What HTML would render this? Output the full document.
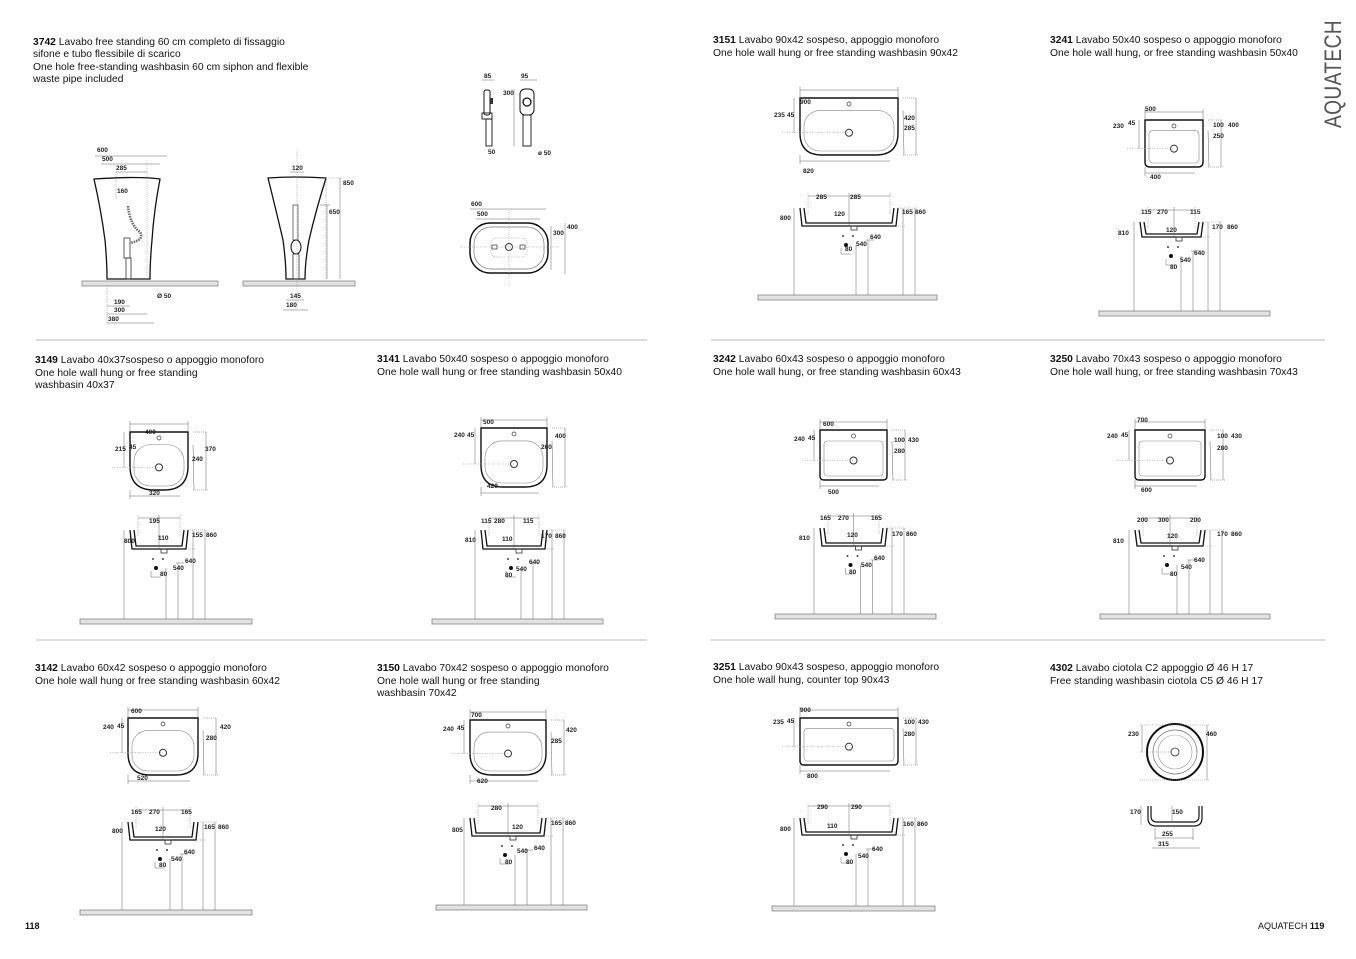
<!DOCTYPE html>
<html><head><meta charset="utf-8">
<style>
html,body{margin:0;padding:0;background:#fff;}
svg{display:block;font-family:"Liberation Sans",Arial,sans-serif;}
.h{font-size:10.3px;fill:#111;}
.d{font-size:6.5px;font-weight:bold;fill:#222;}
</style></head>
<body>
<svg id="s" width="1356" height="959" viewBox="0 0 1356 959" xmlns="http://www.w3.org/2000/svg">
<rect width="1356" height="959" fill="#fff"/>
<g id="g"></g>
<line x1="36" y1="340" x2="647" y2="340" stroke="#bbb" stroke-width="1"/>
<line x1="711" y1="340" x2="1325" y2="340" stroke="#bbb" stroke-width="1"/>
<line x1="36" y1="640" x2="647" y2="640" stroke="#bbb" stroke-width="1"/>
<line x1="711" y1="640" x2="1325" y2="640" stroke="#bbb" stroke-width="1"/>

<text class="h" x="33" y="45"><tspan font-weight="bold">3742</tspan> Lavabo free standing 60 cm completo di fissaggio</text>
<text class="h" x="33" y="57">sifone e tubo flessibile di scarico</text>
<text class="h" x="33" y="70">One hole free-standing washbasin 60 cm siphon and flexible</text>
<text class="h" x="33" y="82">waste pipe included</text>

<text class="h" x="713" y="43"><tspan font-weight="bold">3151</tspan> Lavabo 90x42 sospeso, appoggio monoforo</text>
<text class="h" x="713" y="56">One hole wall hung or free standing washbasin 90x42</text>
<text class="h" x="1050" y="43"><tspan font-weight="bold">3241</tspan> Lavabo 50x40 sospeso o appoggio monoforo</text>
<text class="h" x="1050" y="56">One hole wall hung, or free standing washbasin 50x40</text>

<text class="h" x="35" y="363"><tspan font-weight="bold">3149</tspan> Lavabo 40x37sospeso o appoggio monoforo</text>
<text class="h" x="35" y="376">One hole wall hung or free standing</text>
<text class="h" x="35" y="388">washbasin 40x37</text>
<text class="h" x="377" y="362"><tspan font-weight="bold">3141</tspan> Lavabo 50x40 sospeso o appoggio monoforo</text>
<text class="h" x="377" y="375">One hole wall hung or free standing washbasin 50x40</text>
<text class="h" x="713" y="362"><tspan font-weight="bold">3242</tspan> Lavabo 60x43 sospeso o appoggio monoforo</text>
<text class="h" x="713" y="375">One hole wall hung, or free standing washbasin 60x43</text>
<text class="h" x="1050" y="362"><tspan font-weight="bold">3250</tspan> Lavabo 70x43 sospeso o appoggio monoforo</text>
<text class="h" x="1050" y="375">One hole wall hung, or free standing washbasin 70x43</text>

<text class="h" x="35" y="671"><tspan font-weight="bold">3142</tspan> Lavabo 60x42 sospeso o appoggio monoforo</text>
<text class="h" x="35" y="684">One hole wall hung or free standing washbasin 60x42</text>
<text class="h" x="377" y="671"><tspan font-weight="bold">3150</tspan> Lavabo 70x42 sospeso o appoggio monoforo</text>
<text class="h" x="377" y="684">One hole wall hung or free standing</text>
<text class="h" x="377" y="696">washbasin 70x42</text>
<text class="h" x="713" y="670"><tspan font-weight="bold">3251</tspan> Lavabo 90x43 sospeso, appoggio monoforo</text>
<text class="h" x="713" y="683">One hole wall hung, counter top 90x43</text>
<text class="h" x="1050" y="671"><tspan font-weight="bold">4302</tspan> Lavabo ciotola C2 appoggio Ø 46 H 17</text>
<text class="h" x="1050" y="684">Free standing washbasin ciotola C5 Ø 46 H 17</text>

<text x="25" y="929" font-size="9" font-weight="bold" fill="#111">118</text>
<text x="1258" y="929" font-size="9" fill="#111">AQUATECH <tspan font-weight="bold">119</tspan></text>
<text transform="translate(1341,128) rotate(-90)" font-size="24" fill="#555" letter-spacing="0.5" textLength="108" lengthAdjust="spacingAndGlyphs">AQUATECH</text>

<g class="d">
<text x="97" y="152">600</text><text x="102" y="161">500</text><text x="116" y="170">285</text><text x="117" y="193">160</text>
<text x="114" y="304">190</text><text x="114" y="312">300</text><text x="108" y="321">380</text><text x="157" y="298">Ø 50</text>
<text x="292" y="170">120</text><text x="343" y="185">850</text><text x="329" y="214">650</text><text x="290" y="298">145</text><text x="286" y="307">180</text>
<text x="484" y="78">85</text><text x="521" y="78">95</text><text x="503" y="95">300</text><text x="488" y="154">50</text><text x="538" y="155">ø 50</text>
<text x="471" y="206">600</text><text x="477" y="216">500</text><text x="553" y="235">300</text><text x="567" y="229">400</text>

<text x="800" y="104">900</text><text x="774" y="117">235</text><text x="787" y="117">45</text><text x="904" y="120">420</text><text x="904" y="130">285</text><text x="803" y="173">820</text>
<text x="816" y="199">285</text><text x="850" y="199">285</text><text x="834" y="216">120</text><text x="780" y="220">800</text><text x="902" y="214">165</text><text x="915" y="214">860</text>
<text x="870" y="239">640</text><text x="856" y="246">540</text><text x="845" y="251">80</text>

<text x="1145" y="111">500</text><text x="1113" y="128">230</text><text x="1128" y="125">45</text><text x="1213" y="127">100</text><text x="1228" y="127">400</text><text x="1213" y="138">250</text><text x="1150" y="179">400</text>
<text x="1141" y="214">115</text><text x="1157" y="214">270</text><text x="1190" y="214">115</text><text x="1166" y="232">120</text><text x="1118" y="235">810</text><text x="1212" y="229">170</text><text x="1227" y="229">860</text>
<text x="1194" y="255">640</text><text x="1180" y="262">540</text><text x="1170" y="269">80</text>

<text x="145" y="434">400</text><text x="115" y="451">215</text><text x="129" y="449">45</text><text x="205" y="451">370</text><text x="192" y="461">240</text><text x="149" y="495">320</text>
<text x="149" y="523">195</text><text x="158" y="540">110</text><text x="124" y="543">800</text><text x="192" y="537">155</text><text x="206" y="537">860</text>
<text x="185" y="563">640</text><text x="173" y="570">540</text><text x="160" y="576">80</text>

<text x="483" y="424">500</text><text x="454" y="437">240</text><text x="467" y="437">45</text><text x="555" y="438">400</text><text x="541" y="449">260</text><text x="487" y="488">420</text>
<text x="481" y="523">115</text><text x="494" y="523">280</text><text x="523" y="523">115</text><text x="502" y="541">110</text><text x="465" y="542">810</text><text x="541" y="538">170</text><text x="555" y="538">860</text>
<text x="529" y="564">640</text><text x="516" y="571">540</text><text x="505" y="577">80</text>

<text x="823" y="426">600</text><text x="794" y="441">240</text><text x="808" y="440">45</text><text x="894" y="442">100</text><text x="908" y="442">430</text><text x="894" y="453">280</text><text x="828" y="494">500</text>
<text x="820" y="520">165</text><text x="838" y="520">270</text><text x="871" y="520">165</text><text x="847" y="537">120</text><text x="799" y="540">810</text><text x="892" y="536">170</text><text x="906" y="536">860</text>
<text x="874" y="560">640</text><text x="861" y="567">540</text><text x="849" y="574">80</text>

<text x="1137" y="422">700</text><text x="1107" y="438">240</text><text x="1121" y="437">45</text><text x="1217" y="438">100</text><text x="1231" y="438">430</text><text x="1217" y="450">280</text><text x="1141" y="492">600</text>
<text x="1137" y="522">200</text><text x="1158" y="522">300</text><text x="1190" y="522">200</text><text x="1167" y="538">120</text><text x="1113" y="543">810</text><text x="1217" y="536">170</text><text x="1231" y="536">860</text>
<text x="1194" y="562">640</text><text x="1181" y="569">540</text><text x="1170" y="576">80</text>

<text x="131" y="713">600</text><text x="103" y="729">240</text><text x="117" y="728">45</text><text x="220" y="729">420</text><text x="206" y="740">280</text><text x="137" y="780">520</text>
<text x="131" y="814">165</text><text x="149" y="814">270</text><text x="181" y="814">165</text><text x="155" y="831">120</text><text x="112" y="833">800</text><text x="204" y="829">165</text><text x="218" y="829">860</text>
<text x="184" y="854">640</text><text x="171" y="861">540</text><text x="159" y="867">80</text>

<text x="471" y="717">700</text><text x="443" y="731">240</text><text x="457" y="730">45</text><text x="566" y="732">420</text><text x="551" y="743">285</text><text x="477" y="783">620</text>
<text x="491" y="810">280</text><text x="512" y="829">120</text><text x="452" y="832">805</text><text x="551" y="825">165</text><text x="565" y="825">860</text>
<text x="534" y="850">640</text><text x="517" y="853">540</text><text x="505" y="864">80</text>

<text x="800" y="712">900</text><text x="773" y="724">235</text><text x="787" y="723">45</text><text x="904" y="724">100</text><text x="918" y="724">430</text><text x="904" y="736">280</text><text x="807" y="778">800</text>
<text x="817" y="809">290</text><text x="851" y="809">290</text><text x="827" y="828">110</text><text x="780" y="831">800</text><text x="903" y="826">160</text><text x="917" y="826">860</text>
<text x="872" y="851">640</text><text x="858" y="858">540</text><text x="846" y="864">80</text>

<text x="1128" y="736">230</text><text x="1206" y="736">460</text><text x="1130" y="814">170</text><text x="1172" y="814">150</text><text x="1162" y="836">255</text><text x="1158" y="846">315</text>
</g>
</svg>
<script>
var g=document.getElementById('g'),NS='http://www.w3.org/2000/svg';
function el(t,a){var e=document.createElementNS(NS,t);for(var k in a)e.setAttribute(k,a[k]);g.appendChild(e);return e;}
function L(x1,y1,x2,y2,w,c,da){var a={x1:x1,y1:y1,x2:x2,y2:y2,stroke:c||'#666','stroke-width':w||0.5};if(da)a['stroke-dasharray']=da;el('line',a);}
function floor(x0,x1,y){el('rect',{x:x0,y:y,width:x1-x0,height:5,fill:'#e2e2e2',stroke:'#777','stroke-width':0.7});}
function wall(c){
 var a=c.tx0,b=c.tx1,t=c.ty0,bt=c.ty1,r=c.r,m=(a+b)/2;
 el('path',{d:'M'+a+' '+t+'H'+b+'V'+(bt-r)+'Q'+b+' '+bt+' '+(b-r)+' '+bt+'H'+(a+r)+'Q'+a+' '+bt+' '+a+' '+(bt-r)+'Z',fill:'none',stroke:'#111','stroke-width':1.4});
 var ir=Math.min(r,(bt-t)*0.35),it=t+(bt-t)*0.22;
 el('rect',{x:a+4,y:it,width:b-a-8,height:bt-it-4,rx:ir*0.8,fill:'none',stroke:'#888','stroke-width':0.6});
 el('circle',{cx:m,cy:t+6,r:2,fill:'none',stroke:'#333','stroke-width':0.7});
 el('circle',{cx:m,cy:(it+bt)/2,r:3.5,fill:'none',stroke:'#333','stroke-width':1});
 L(a,t-8,b,t-8);L(a,t-11,a,t);L(b,t-11,b,t);
 L(a,bt+6,b-8,bt+6);L(a,bt,a,bt+9);
 L(b+5,t,b+18,t,0.5,'#666','1,1');L(b+18,t,b+18,bt);L(b+5,it,b+6,bt);L(b+5,bt,b+20,bt,0.5,'#666','1,1');
 L(a-18,(it+bt)/2,m,(it+bt)/2,0.5,'#888','1,1.5');L(a-6,t,a-6,(it+bt)/2);
 var f0=c.fy0,f1=c.fy1,fa=c.fa||a,fb=c.fb||b;
 el('path',{d:'M'+fa+' '+f0+'L'+(fa+2)+' '+f1+'H'+(fb-2)+'L'+fb+' '+f0+'M'+(fa+4)+' '+f0+'L'+(fa+6)+' '+(f1-3)+'H'+(fb-6)+'L'+(fb-4)+' '+f0,fill:'none',stroke:'#111','stroke-width':1.3});
 el('rect',{x:m+2,y:f1,width:6,height:4,fill:'none',stroke:'#333','stroke-width':0.8});
 L(fa+8,f0-12,fb-8,f0-12);L(fa+8,f0-15,fa+8,f0+6,0.5,'#888','1,1');L(fb-8,f0-15,fb-8,f0+6,0.5,'#888','1,1');L(m,f0-15,m,f1,0.5,'#666');
 var gy=c.gy;floor(c.gx0,c.gx1,gy);
 L(fa-6,f0,fa-6,gy);L(fb+5,f0,fb+5,gy);L(fb+17,f0,fb+17,gy);L(fb,f0,fb+20,f0,0.5,'#888','1,1');L(fb,f1,fb+8,f1,0.5,'#888','1,1');
 el('circle',{cx:m-6,cy:f1+10,r:1,fill:'#444'});el('circle',{cx:m+4,cy:f1+10,r:1,fill:'#444'});
 el('circle',{cx:m-3,cy:f1+19,r:2,fill:'#111'});
 L(m+7,f1+19,m+7,gy);L(m+19,f1+14,m+19,gy);L(m+17,f1+14,m+25,f1+14);L(m-8,f1+22,m-8,f1+28);L(m-8,f1+28,m+2,f1+28);
}
var cells=[
 {tx0:800,tx1:898,ty0:98,ty1:155,r:22,fy0:208,fy1:226,gx0:758,gx1:937,gy:295},
 {tx0:1145,tx1:1203,ty0:120,ty1:167,r:5,fy0:222,fy1:237,fa:1140,gx0:1099,gx1:1270,gy:311},
 {tx0:130,tx1:188,ty0:432,ty1:490,r:24,fy0:530,fy1:549,gx0:80,gx1:252,gy:619},
 {tx0:481,tx1:547,ty0:428,ty1:487,r:22,fy0:530,fy1:549,gx0:432,gx1:603,gy:619},
 {tx0:820,tx1:887,ty0:430,ty1:480,r:4,fy0:528,fy1:546,gx0:775,gx1:936,gy:614},
 {tx0:1135,tx1:1205,ty0:430,ty1:480,r:4,fy0:530,fy1:546,gx0:1100,gx1:1270,gy:614},
 {tx0:128,tx1:198,ty0:718,ty1:775,r:22,fy0:822,fy1:840,gx0:80,gx1:252,gy:910},
 {tx0:470,tx1:546,ty0:720,ty1:775,r:22,fy0:818,fy1:836,gx0:436,gx1:587,gy:905},
 {tx0:800,tx1:898,ty0:718,ty1:765,r:4,fy0:818,fy1:835,gx0:772,gx1:935,gy:906}
];
cells.forEach(wall);
el('circle',{cx:1175,cy:752,r:28,fill:'none',stroke:'#111','stroke-width':2});
el('circle',{cx:1175,cy:752,r:22,fill:'none',stroke:'#777','stroke-width':0.7});
el('circle',{cx:1175,cy:752,r:17,fill:'none',stroke:'#999','stroke-width':0.6});
el('circle',{cx:1175,cy:752,r:4,fill:'none',stroke:'#333','stroke-width':0.8});
L(1140,725,1210,725,0.5,'#888','1,1');L(1140,780,1210,780,0.5,'#888','1,1');L(1142,725,1142,752);L(1207,725,1207,780);L(1140,752,1172,752,0.5,'#888','1,1');
el('path',{d:'M1148 806V818Q1148 826 1156 826H1194Q1202 826 1202 818V806M1151 806V816Q1151 822 1157 822H1193Q1199 822 1199 816V806',fill:'none',stroke:'#111','stroke-width':1.2});
L(1141,806,1141,825);L(1172,806,1172,822);L(1155,828,1155,840);L(1193,828,1193,840);L(1155,838,1193,838);L(1152,848,1200,848);
floor(82,218,281);floor(243,355,281);
el('path',{d:'M94 179Q140 176 160 179Q154 210 152 240Q150 262 150 279H107Q107 262 105 240Q101 210 94 179Z',fill:'none',stroke:'#111','stroke-width':1.3});
el('path',{d:'M268 178Q295 176 326 178Q316 210 309 240Q305 262 305 279H286Q286 262 283 240Q276 210 268 178Z',fill:'none',stroke:'#111','stroke-width':1.3});
el('path',{d:'M128 206Q130 225 140 232Q145 240 130 243',fill:'none',stroke:'#666','stroke-width':2.5,'stroke-dasharray':'1.5,1'});
el('rect',{x:124,y:238,width:6,height:20,fill:'none',stroke:'#333','stroke-width':0.8});
el('rect',{x:126,y:258,width:5,height:21,fill:'none',stroke:'#333','stroke-width':0.8});
el('rect',{x:293,y:205,width:5,height:35,fill:'none',stroke:'#555','stroke-width':0.8});
el('ellipse',{cx:296,cy:247,rx:5,ry:7,fill:'none',stroke:'#111','stroke-width':1});
el('rect',{x:293,y:254,width:6,height:25,fill:'none',stroke:'#333','stroke-width':0.8});
L(95,156,167,156);L(101,164,160,164);L(116,172,147,172);L(116,172,116,200,0.5,'#888','1,1');L(147,160,147,279,0.5,'#999','1,1');
L(107,306,130,306);L(107,314,147,314);L(107,323,154,323);L(107,286,107,325,0.5,'#888','1,1');
L(297,150,297,310,0.5,'#999','1,1');L(290,172,304,172);L(326,178,342,178,0.5,'#888','1,1');L(340,178,340,279);L(326,178,326,279,0.5,'#888','1,1');L(320,205,330,205);L(327,205,327,279);
L(286,300,304,300);L(283,310,308,310);
el('rect',{x:484,y:90,width:6,height:25,rx:2,fill:'none',stroke:'#111','stroke-width':1});
el('rect',{x:482,y:113,width:10,height:6,fill:'none',stroke:'#111','stroke-width':0.9});
el('rect',{x:486,y:119,width:6,height:27,fill:'none',stroke:'#111','stroke-width':0.9});
el('rect',{x:490,y:98,width:3,height:6,fill:'#333'});
el('rect',{x:520,y:89,width:14,height:26,rx:5,fill:'none',stroke:'#111','stroke-width':1});
el('circle',{cx:527,cy:102,r:4,fill:'none',stroke:'#111','stroke-width':1.3});
el('rect',{x:523,y:115,width:8,height:31,fill:'none',stroke:'#111','stroke-width':0.9});
L(482,80,494,80);L(520,80,537,80);L(514,89,514,146);
el('rect',{x:470,y:223,width:78,height:50,rx:20,fill:'none',stroke:'#111','stroke-width':1.5});
el('rect',{x:474,y:227,width:70,height:42,rx:17,fill:'none',stroke:'#777','stroke-width':0.7});
el('rect',{x:491,y:238,width:36,height:19,rx:5,fill:'none',stroke:'#aaa','stroke-width':0.6,'stroke-dasharray':'1.5,1'});
el('circle',{cx:509,cy:247,r:3.5,fill:'none',stroke:'#333','stroke-width':1});
el('rect',{x:492,y:245,width:5,height:4,fill:'none',stroke:'#333','stroke-width':0.7});
el('rect',{x:520,y:245,width:5,height:4,fill:'none',stroke:'#333','stroke-width':0.7});
L(470,209,546,209);L(476,219,540,219);L(460,247,560,247,0.5,'#999','1,1');L(509,210,509,286,0.5,'#999','1,1');
L(551,226,551,270);L(565,223,565,274);
</script>
</body></html>
